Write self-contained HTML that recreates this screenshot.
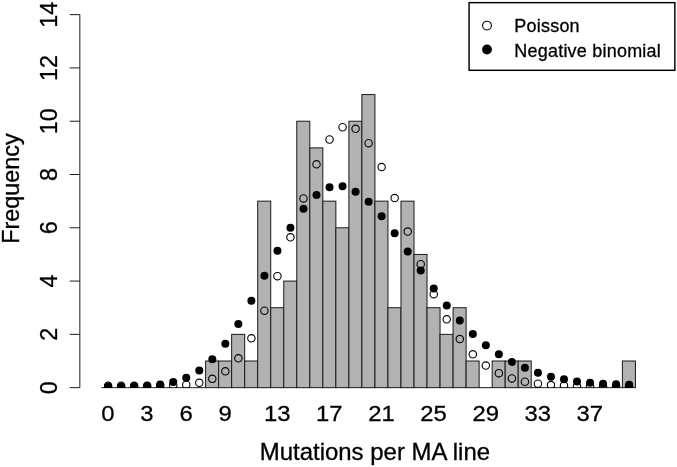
<!DOCTYPE html>
<html><head><meta charset="utf-8"><title>Chart</title>
<style>html,body{margin:0;padding:0;background:#fff;}svg{display:block;will-change:transform;}text{font-family:"Liberation Sans",sans-serif;fill:#000;stroke:#000;stroke-width:0.3px;}</style></head>
<body>
<svg width="677" height="467" viewBox="0 0 677 467">
<rect x="0" y="0" width="677" height="467" fill="#fff"/>
<defs><clipPath id="pc"><rect x="79" y="0" width="598" height="388.05"/></clipPath></defs>
<g fill="#b2b2b2" stroke="#1a1a1a" stroke-width="1">
<line x1="101.40" y1="387.65" x2="114.43" y2="387.65"/>
<line x1="114.43" y1="387.65" x2="127.45" y2="387.65"/>
<line x1="127.45" y1="387.65" x2="140.47" y2="387.65"/>
<line x1="140.48" y1="387.65" x2="153.50" y2="387.65"/>
<line x1="153.50" y1="387.65" x2="166.53" y2="387.65"/>
<line x1="166.53" y1="387.65" x2="179.55" y2="387.65"/>
<line x1="179.55" y1="387.65" x2="192.58" y2="387.65"/>
<line x1="192.57" y1="387.65" x2="205.60" y2="387.65"/>
<rect x="205.60" y="361.01" width="13.03" height="26.64"/>
<rect x="218.62" y="361.01" width="13.03" height="26.64"/>
<rect x="231.65" y="334.36" width="13.03" height="53.29"/>
<rect x="244.68" y="361.01" width="13.03" height="26.64"/>
<rect x="257.70" y="201.15" width="13.03" height="186.50"/>
<rect x="270.73" y="307.72" width="13.03" height="79.93"/>
<rect x="283.75" y="281.08" width="13.03" height="106.57"/>
<rect x="296.77" y="121.22" width="13.03" height="266.43"/>
<rect x="309.80" y="147.86" width="13.03" height="239.79"/>
<rect x="322.83" y="201.15" width="13.03" height="186.50"/>
<rect x="335.85" y="227.79" width="13.03" height="159.86"/>
<rect x="348.88" y="121.22" width="13.03" height="266.43"/>
<rect x="361.90" y="94.58" width="13.03" height="293.07"/>
<rect x="374.93" y="201.15" width="13.03" height="186.50"/>
<rect x="387.95" y="307.72" width="13.03" height="79.93"/>
<rect x="400.98" y="201.15" width="13.03" height="186.50"/>
<rect x="414.00" y="254.43" width="13.03" height="133.22"/>
<rect x="427.02" y="307.72" width="13.03" height="79.93"/>
<rect x="440.05" y="334.36" width="13.03" height="53.29"/>
<rect x="453.08" y="307.72" width="13.03" height="79.93"/>
<rect x="466.10" y="361.01" width="13.03" height="26.64"/>
<line x1="479.12" y1="387.65" x2="492.15" y2="387.65"/>
<rect x="492.15" y="361.01" width="13.03" height="26.64"/>
<rect x="505.18" y="361.01" width="13.03" height="26.64"/>
<rect x="518.20" y="361.01" width="13.03" height="26.64"/>
<line x1="531.23" y1="387.65" x2="544.25" y2="387.65"/>
<line x1="544.25" y1="387.65" x2="557.27" y2="387.65"/>
<line x1="557.27" y1="387.65" x2="570.30" y2="387.65"/>
<line x1="570.30" y1="387.65" x2="583.33" y2="387.65"/>
<line x1="583.33" y1="387.65" x2="596.35" y2="387.65"/>
<line x1="596.35" y1="387.65" x2="609.38" y2="387.65"/>
<line x1="609.38" y1="387.65" x2="622.40" y2="387.65"/>
<rect x="622.40" y="361.01" width="13.03" height="26.64"/>
</g>
<g clip-path="url(#pc)">
<g fill="none" stroke="#000" stroke-width="1.10">
<circle cx="108.11" cy="385.72" r="3.70"/>
<circle cx="121.14" cy="385.72" r="3.70"/>
<circle cx="134.16" cy="385.71" r="3.70"/>
<circle cx="147.19" cy="385.70" r="3.70"/>
<circle cx="160.21" cy="385.63" r="3.70"/>
<circle cx="173.24" cy="385.38" r="3.70"/>
<circle cx="186.26" cy="384.65" r="3.70"/>
<circle cx="199.29" cy="382.82" r="3.70"/>
<circle cx="212.31" cy="378.87" r="3.70"/>
<circle cx="225.34" cy="371.29" r="3.70"/>
<circle cx="238.36" cy="358.31" r="3.70"/>
<circle cx="251.39" cy="338.34" r="3.70"/>
<circle cx="264.41" cy="310.68" r="3.70"/>
<circle cx="277.44" cy="276.13" r="3.70"/>
<circle cx="290.46" cy="237.32" r="3.70"/>
<circle cx="303.49" cy="198.42" r="3.70"/>
<circle cx="316.51" cy="164.29" r="3.70"/>
<circle cx="329.54" cy="139.49" r="3.70"/>
<circle cx="342.56" cy="127.26" r="3.70"/>
<circle cx="355.59" cy="128.80" r="3.70"/>
<circle cx="368.61" cy="143.18" r="3.70"/>
<circle cx="381.64" cy="167.11" r="3.70"/>
<circle cx="394.66" cy="198.05" r="3.70"/>
<circle cx="407.69" cy="231.57" r="3.70"/>
<circle cx="420.71" cy="264.23" r="3.70"/>
<circle cx="433.74" cy="294.15" r="3.70"/>
<circle cx="446.76" cy="319.29" r="3.70"/>
<circle cx="459.79" cy="339.08" r="3.70"/>
<circle cx="472.81" cy="354.35" r="3.70"/>
<circle cx="485.84" cy="365.59" r="3.70"/>
<circle cx="498.86" cy="373.13" r="3.70"/>
<circle cx="511.89" cy="378.46" r="3.70"/>
<circle cx="524.91" cy="381.76" r="3.70"/>
<circle cx="537.94" cy="383.67" r="3.70"/>
<circle cx="550.96" cy="385.10" r="3.70"/>
<circle cx="563.99" cy="385.60" r="3.70"/>
<circle cx="577.01" cy="385.97" r="3.70"/>
<circle cx="590.04" cy="386.16" r="3.70"/>
<circle cx="603.06" cy="386.26" r="3.70"/>
<circle cx="616.09" cy="386.32" r="3.70"/>
<circle cx="629.11" cy="386.34" r="3.70"/>
</g><g fill="#000" stroke="none">
<circle cx="108.11" cy="386.21" r="4.00"/>
<circle cx="121.14" cy="386.19" r="4.00"/>
<circle cx="134.16" cy="386.09" r="4.00"/>
<circle cx="147.19" cy="385.72" r="4.00"/>
<circle cx="160.21" cy="384.53" r="4.00"/>
<circle cx="173.24" cy="382.01" r="4.00"/>
<circle cx="186.26" cy="377.73" r="4.00"/>
<circle cx="199.29" cy="370.43" r="4.00"/>
<circle cx="212.31" cy="359.27" r="4.00"/>
<circle cx="225.34" cy="343.76" r="4.00"/>
<circle cx="238.36" cy="324.00" r="4.00"/>
<circle cx="251.39" cy="300.82" r="4.00"/>
<circle cx="264.41" cy="275.73" r="4.00"/>
<circle cx="277.44" cy="250.65" r="4.00"/>
<circle cx="290.46" cy="227.67" r="4.00"/>
<circle cx="303.49" cy="208.66" r="4.00"/>
<circle cx="316.51" cy="194.93" r="4.00"/>
<circle cx="329.54" cy="187.26" r="4.00"/>
<circle cx="342.56" cy="186.37" r="4.00"/>
<circle cx="355.59" cy="191.64" r="4.00"/>
<circle cx="368.61" cy="201.79" r="4.00"/>
<circle cx="381.64" cy="216.14" r="4.00"/>
<circle cx="394.66" cy="233.21" r="4.00"/>
<circle cx="407.69" cy="251.50" r="4.00"/>
<circle cx="420.71" cy="270.46" r="4.00"/>
<circle cx="433.74" cy="288.59" r="4.00"/>
<circle cx="446.76" cy="305.55" r="4.00"/>
<circle cx="459.79" cy="320.62" r="4.00"/>
<circle cx="472.81" cy="334.07" r="4.00"/>
<circle cx="485.84" cy="345.16" r="4.00"/>
<circle cx="498.86" cy="354.33" r="4.00"/>
<circle cx="511.89" cy="361.90" r="4.00"/>
<circle cx="524.91" cy="367.79" r="4.00"/>
<circle cx="537.94" cy="372.83" r="4.00"/>
<circle cx="550.96" cy="376.70" r="4.00"/>
<circle cx="563.99" cy="379.22" r="4.00"/>
<circle cx="577.01" cy="381.50" r="4.00"/>
<circle cx="590.04" cy="382.66" r="4.00"/>
<circle cx="603.06" cy="383.72" r="4.00"/>
<circle cx="616.09" cy="384.28" r="4.00"/>
<circle cx="629.11" cy="384.82" r="4.00"/>
</g></g>
<g stroke="#1a1a1a" stroke-width="1" fill="none">
<line x1="79.85" y1="387.65" x2="79.85" y2="14.65"/>
<line x1="69.75" y1="387.65" x2="79.85" y2="387.65"/>
<line x1="69.75" y1="334.36" x2="79.85" y2="334.36"/>
<line x1="69.75" y1="281.08" x2="79.85" y2="281.08"/>
<line x1="69.75" y1="227.79" x2="79.85" y2="227.79"/>
<line x1="69.75" y1="174.51" x2="79.85" y2="174.51"/>
<line x1="69.75" y1="121.22" x2="79.85" y2="121.22"/>
<line x1="69.75" y1="67.93" x2="79.85" y2="67.93"/>
<line x1="69.75" y1="14.65" x2="79.85" y2="14.65"/>
</g>
<g font-size="23.50" text-anchor="middle">
<text transform="translate(57.20,387.65) rotate(-90) scale(0.995,1.028)">0</text>
<text transform="translate(57.20,334.36) rotate(-90) scale(0.995,1.028)">2</text>
<text transform="translate(57.20,281.08) rotate(-90) scale(0.995,1.028)">4</text>
<text transform="translate(57.20,227.79) rotate(-90) scale(0.995,1.028)">6</text>
<text transform="translate(57.20,174.51) rotate(-90) scale(0.995,1.028)">8</text>
<text transform="translate(57.20,121.22) rotate(-90) scale(0.995,1.028)">10</text>
<text transform="translate(57.20,67.93) rotate(-90) scale(0.995,1.028)">12</text>
<text transform="translate(57.20,14.65) rotate(-90) scale(0.995,1.028)">14</text>
</g>
<g font-size="23.50" text-anchor="middle">
<text transform="translate(107.91,421.25) scale(1.015,0.975)">0</text>
<text transform="translate(146.99,421.25) scale(1.015,0.975)">3</text>
<text transform="translate(186.06,421.25) scale(1.015,0.975)">6</text>
<text transform="translate(225.14,421.25) scale(1.015,0.975)">9</text>
<text transform="translate(277.24,421.25) scale(1.015,0.975)">13</text>
<text transform="translate(329.34,421.25) scale(1.015,0.975)">17</text>
<text transform="translate(381.44,421.25) scale(1.015,0.975)">21</text>
<text transform="translate(433.54,421.25) scale(1.015,0.975)">25</text>
<text transform="translate(485.64,421.25) scale(1.015,0.975)">29</text>
<text transform="translate(537.74,421.25) scale(1.015,0.975)">33</text>
<text transform="translate(589.84,421.25) scale(1.015,0.975)">37</text>
</g>
<text font-size="23.50" text-anchor="middle" transform="translate(374.90,459.65) scale(1.020,1.000)">Mutations per MA line</text>
<text font-size="23.50" text-anchor="middle" transform="translate(19.30,188.50) rotate(-90) scale(0.995,1.028)">Frequency</text>
<rect x="469.1" y="2.65" width="205.75" height="67.65" fill="#fff" stroke="#000" stroke-width="1.45"/>
<circle cx="487" cy="25.6" r="4.4" fill="none" stroke="#000" stroke-width="1.1"/>
<circle cx="487" cy="49.5" r="4.9" fill="#000"/>
<g font-size="18.00" letter-spacing="0.22"><text transform="translate(514.3,32.1) scale(1,0.97)">Poisson</text><text transform="translate(514.3,57.0) scale(1,0.97)">Negative binomial</text></g>
</svg></body></html>
